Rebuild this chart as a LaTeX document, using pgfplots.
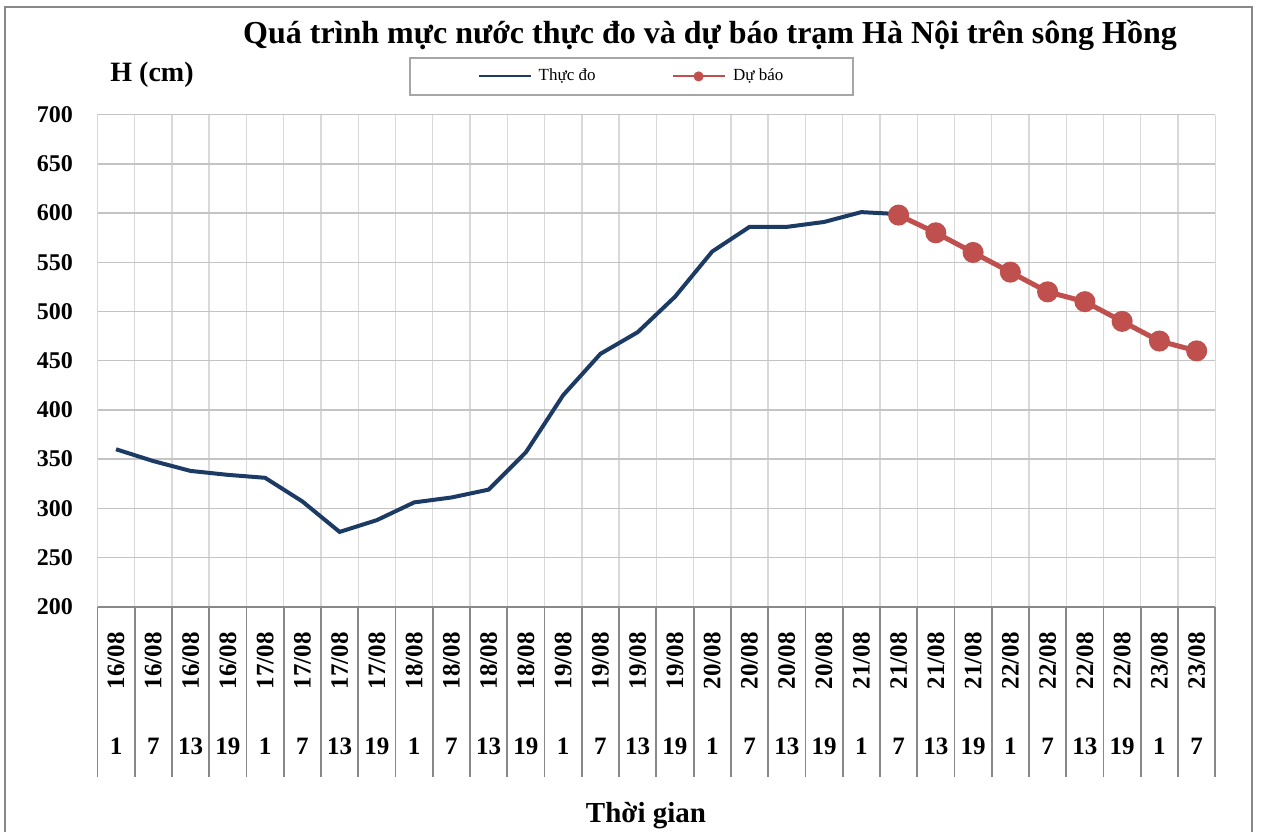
\documentclass[border=0pt]{standalone}
\usepackage{fontspec}
\setmainfont{Liberation Serif}
\usepackage{pgfplots}
\pgfplotsset{compat=1.18}
\definecolor{obs}{HTML}{1B3A64}
\definecolor{fc}{HTML}{C0504D}
\definecolor{hgrid}{HTML}{C4C4C4}
\definecolor{vgrid}{HTML}{D9D9D9}
\definecolor{axgray}{HTML}{888888}
\definecolor{leggray}{HTML}{A6A6A6}
\newcommand{\D}[1]{\rotatebox{90}{#1}}
\begin{document}
\begin{tikzpicture}
\path[use as bounding box] (0,0) rectangle (631pt,416pt);
\draw[axgray, line width=1pt] (2.5pt,0) -- (2.5pt,412.5pt) -- (626pt,412.5pt) -- (626pt,0);
\begin{axis}[
 at={(48.7pt,112.65pt)}, anchor=south west,
 scale only axis, width=558.95pt, height=246pt,
 xmin=-0.5, xmax=29.5, ymin=200, ymax=700,
 axis x line*=bottom, axis y line*=left,
 x axis line style={axgray, line width=1pt, -},
 y axis line style={vgrid, line width=0.7pt, -},
 xtick={0,...,29},
 xticklabels={\D{16/08},\D{16/08},\D{16/08},\D{16/08},\D{17/08},\D{17/08},\D{17/08},\D{17/08},\D{18/08},\D{18/08},\D{18/08},\D{18/08},\D{19/08},\D{19/08},\D{19/08},\D{19/08},\D{20/08},\D{20/08},\D{20/08},\D{20/08},\D{21/08},\D{21/08},\D{21/08},\D{21/08},\D{22/08},\D{22/08},\D{22/08},\D{22/08},\D{23/08},\D{23/08}},
 minor xtick={-0.5,0.5,...,29.5},
 xmajorgrids=false, xminorgrids=true, ymajorgrids=true,
 minor x grid style={vgrid, line width=0.7pt},
 y grid style={hgrid, line width=0.7pt},
 ytick={200,250,...,700},
 major tick length=0pt,
 minor tick length=85pt,
 tick align=outside,
 minor tick style={axgray, line width=0.9pt},
 xticklabel style={font=\bfseries\fontsize{12.5}{12.5}\selectfont, anchor=north, inner sep=0pt, yshift=-12.5pt},
 yticklabel style={font=\bfseries\fontsize{12}{12}\selectfont, anchor=east, inner sep=0pt, xshift=-12pt, /pgf/number format/assume math mode=true},
 extra x ticks={0,...,29},
 extra x tick labels={1,7,13,19,1,7,13,19,1,7,13,19,1,7,13,19,1,7,13,19,1,7,13,19,1,7,13,19,1,7},
 extra x tick style={grid=none, xticklabel style={anchor=center, yshift=-57.5pt}},
 legend columns=2,
 legend image code/.code={\draw[mark repeat=2,mark phase=2,#1,line width=1pt,mark size=2pt] plot coordinates {(0pt,0pt) (13pt,0pt) (26pt,0pt)}; \path (28pt,0pt);},
 legend style={at={(axis description cs:0.4778,1.0779)}, anchor=center, draw=leggray, line width=1pt,
   font=\fontsize{8.5}{10}\selectfont, inner xsep=34pt, inner ysep=4.5pt,
   nodes={inner sep=1pt},
   /tikz/every even column/.append style={column sep=37pt}},
]
\addplot[obs, line width=2pt] coordinates {
(0,360) (1,348) (2,338) (3,334) (4,331) (5,307) (6,276) (7,288) (8,306) (9,311) (10,319)
(11,357) (12,415) (13,457) (14,479) (15,515) (16,561) (17,586) (18,586) (19,591) (20,601) (21,599)};
\addlegendentry{Thực đo}
\addplot[fc, line width=2.5pt, mark=*, mark size=4pt, mark options={fill=fc, draw=fc}] coordinates {
(21,598) (22,580) (23,560) (24,540) (25,520) (26,510) (27,490) (28,470) (29,460)};
\addlegendentry{Dự báo}
\end{axis}
\node[font=\bfseries\fontsize{16}{16}\selectfont, anchor=base, inner sep=0pt] at (355pt,394pt) {Quá trình mực nước thực đo và dự báo trạm Hà Nội trên sông Hồng};
\node[font=\bfseries\fontsize{14}{14}\selectfont, anchor=base west, inner sep=0pt] at (55pt,375pt) {H (cm)};
\node[font=\bfseries\fontsize{14.5}{14.5}\selectfont, anchor=base, inner sep=0pt] at (323pt,5pt) {Thời gian};
\end{tikzpicture}
\end{document}
